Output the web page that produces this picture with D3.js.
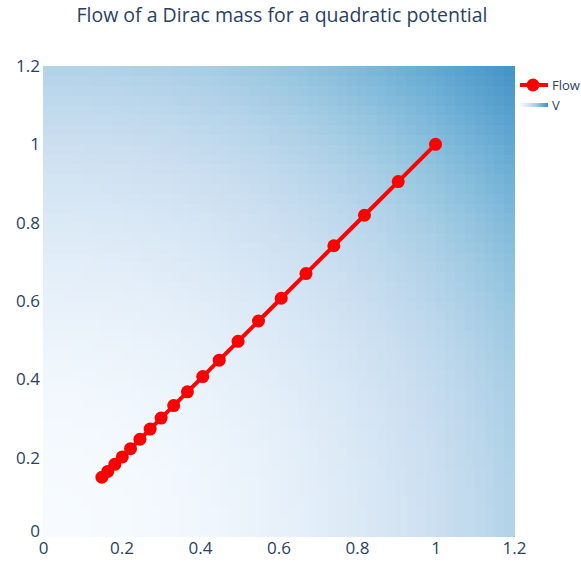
<!DOCTYPE html>
<html>
<head>
<meta charset="utf-8">
<script src="https://cdn.jsdelivr.net/npm/d3@7"></script>
<style>
  body { margin: 0; background: #fff; }
  svg { font-family: "Open Sans", sans-serif; }
</style>
</head>
<body>
<svg id="chart" width="581" height="562"></svg>
<script>
'use strict'

// flow of the dirac mass (x = y along the diagonal)
var flowX = [1, 0.905, 0.819, 0.741, 0.670, 0.607, 0.549, 0.497, 0.449, 0.407,
             0.368, 0.333, 0.301, 0.273, 0.247, 0.223, 0.202, 0.183, 0.165, 0.150];
var flowY = [1, 0.905, 0.819, 0.741, 0.670, 0.607, 0.549, 0.497, 0.449, 0.407,
             0.368, 0.333, 0.301, 0.273, 0.247, 0.223, 0.202, 0.183, 0.165, 0.150];

// heatmap grid for V(x,y) = x^2 + y^2
var gridStep = 0.025;
var gridX = d3.range(0, 1.2, gridStep);
var gridY = d3.range(0, 1.2, gridStep);

var tickVals = [0, 0.2, 0.4, 0.6, 0.8, 1, 1.2];
var tickText = ['0', '0.2', '0.4', '0.6', '0.8', '1', '1.2'];

var blues = ['rgb(247,251,255)', 'rgb(222,235,247)', 'rgb(198,219,239)', 'rgb(158,202,225)',
             'rgb(107,174,214)', 'rgb(66,146,198)', 'rgb(33,113,181)', 'rgb(8,81,156)', 'rgb(8,48,107)'];

var svg = d3.select('#chart');
var plotLeft = 43, plotRight = 514, plotTop = 66, plotBottom = 536;

var x = d3.scaleLinear().domain([0, 1.2]).range([plotLeft, plotRight]);
var y = d3.scaleLinear().domain([0, 1.2]).range([plotBottom, plotTop]);
var color = d3.scaleSequential(d3.interpolateRgbBasis(blues)).domain([0, 4.6]);

// heatmap
var cells = [];
gridX.forEach(function(gx){
  gridY.forEach(function(gy){
    var cx = gx + gridStep / 2, cy = gy + gridStep / 2;
    cells.push({ x: gx, y: gy, v: cx * cx + cy * cy });
  });
});

svg.append('g')
  .selectAll('rect')
  .data(cells)
  .enter()
  .append('rect')
  .attr('x', function(d){ return x(d.x); })
  .attr('y', function(d){ return y(d.y + gridStep); })
  .attr('width', function(d){ return Math.min(x(d.x + gridStep), plotRight) - x(d.x) + 0.5; })
  .attr('height', function(d){ return y(d.y) - Math.max(y(d.y + gridStep), plotTop) + 0.5; })
  .attr('fill', function(d){ return color(d.v); })
  .attr('shape-rendering', 'crispEdges');

// axes
var xAxis = svg.append('g')
  .attr('transform', 'translate(0,' + plotBottom + ')')
  .call(d3.axisBottom(x).tickValues(tickVals).tickFormat(function(d, i){ return tickText[i]; }).tickSize(0).tickPadding(6));
var yAxis = svg.append('g')
  .attr('transform', 'translate(' + plotLeft + ',0)')
  .call(d3.axisLeft(y).tickValues(tickVals).tickFormat(function(d, i){ return tickText[i]; }).tickSize(0).tickPadding(3));

[xAxis, yAxis].forEach(function(a){
  a.select('.domain').remove();
  a.selectAll('text')
    .attr('fill', '#2a3f5f')
    .style('font-size', '17px')
    .style('font-family', '"Open Sans", sans-serif');
});
// plotly nudges the bottom y label up
yAxis.selectAll('.tick text').filter(function(d){ return d === 0; }).attr('dy', '0.05em');

// flow line
var pts = flowX.map(function(v, i){ return [v, flowY[i]]; });
var line = d3.line()
  .x(function(d){ return x(d[0]); })
  .y(function(d){ return y(d[1]); });

svg.append('path')
  .datum(pts)
  .attr('d', line)
  .attr('fill', 'none')
  .attr('stroke', 'red')
  .attr('stroke-width', 4);

svg.append('g')
  .selectAll('circle')
  .data(pts)
  .enter()
  .append('circle')
  .attr('cx', function(d){ return x(d[0]); })
  .attr('cy', function(d){ return y(d[1]); })
  .attr('r', 6.5)
  .attr('fill', 'red');

// title
svg.append('text')
  .attr('x', 282)
  .attr('y', 22)
  .attr('text-anchor', 'middle')
  .attr('fill', '#2a3f5f')
  .style('font-size', '19.5px')
  .text('Flow of a Dirac mass for a quadratic potential');

// legend
var legend = svg.append('g').attr('transform', 'translate(520,0)');
legend.append('line')
  .attr('x1', 0).attr('x2', 28).attr('y1', 85).attr('y2', 85)
  .attr('stroke', 'red').attr('stroke-width', 4);
legend.append('circle')
  .attr('cx', 13).attr('cy', 85).attr('r', 6.5).attr('fill', 'red');
legend.append('text')
  .attr('x', 32).attr('y', 90)
  .attr('fill', '#2a3f5f')
  .style('font-size', '13px')
  .text('Flow');

var grad = svg.append('defs').append('linearGradient').attr('id', 'vgrad');
grad.selectAll('stop')
  .data(blues.slice(0, 6))
  .enter()
  .append('stop')
  .attr('offset', function(d, i){ return (i / 5 * 100) + '%'; })
  .attr('stop-color', function(d){ return d; });
legend.append('rect')
  .attr('x', 0).attr('y', 103).attr('width', 28).attr('height', 4)
  .attr('fill', 'url(#vgrad)');
legend.append('text')
  .attr('x', 32).attr('y', 110)
  .attr('fill', '#2a3f5f')
  .style('font-size', '13px')
  .text('V');
</script>
</body>
</html>
